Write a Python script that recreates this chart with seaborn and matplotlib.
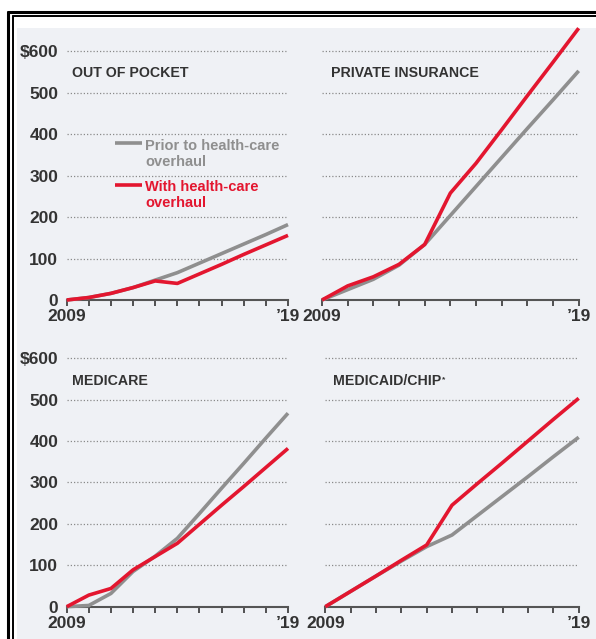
import matplotlib
matplotlib.use("Agg")
import numpy as np
import pandas as pd
import seaborn as sns
import matplotlib.pyplot as plt
from matplotlib.lines import Line2D
from matplotlib.patches import Rectangle

# ---------------- data ----------------
years = list(range(2009, 2020))
scenarios = ["Prior to health-care\noverhaul", "With health-care\noverhaul"]

oop_prior = [0, 6, 16, 30, 48, 66, 89, 112, 135, 158, 182]
oop_with = [0, 6, 16, 30, 46, 40, 63, 86, 110, 133, 156]
priv_prior = [0, 25, 50, 84, 134, 204, 274, 344, 414, 483, 553]
priv_with = [0, 34, 56, 86, 134, 258, 330, 411, 493, 574, 656]
med_prior = [0, 3, 32, 85, 122, 165, 225, 286, 346, 407, 467]
med_with = [0, 28, 44, 89, 121, 153, 199, 245, 290, 336, 382]
mcd_prior = [0, 37, 74, 110, 145, 173, 220, 267, 314, 362, 409]
mcd_with = [0, 37, 74, 112, 149, 245, 297, 348, 400, 452, 503]

panel_titles = ["OUT OF POCKET", "PRIVATE INSURANCE", "MEDICARE", "MEDICAID/CHIP"]
ytick_vals = [0, 100, 200, 300, 400, 500, 600]
ytick_labels = ["0", "100", "200", "300", "400", "500", "$600"]
xtick_labels = ["2009"] + [""] * 9 + ["\u201919"]

series = {
    panel_titles[0]: (oop_prior, oop_with),
    panel_titles[1]: (priv_prior, priv_with),
    panel_titles[2]: (med_prior, med_with),
    panel_titles[3]: (mcd_prior, mcd_with),
}

# ---------------- style ----------------
sns.set_style("white")
plt.rcParams["font.family"] = ["Liberation Sans Narrow", "Liberation Sans", "DejaVu Sans"]
plt.rcParams["font.weight"] = "bold"
plt.rcParams["xtick.bottom"] = True
plt.rcParams["xtick.major.size"] = 4
plt.rcParams["xtick.major.width"] = 1.3
plt.rcParams["xtick.direction"] = "out"

GRAY = "#8f8f8f"
RED = "#e3162f"
TXT = "#333333"
BG = "#eff1f5"

W, H = 596, 639
fig = plt.figure(figsize=(W / 100, H / 100), dpi=100)
fig.patch.set_facecolor("white")

# background panel and double frame
fig.add_artist(Rectangle((17 / W, 1 - 639 / H), (W - 17) / W, (639 - 28) / H,
                         transform=fig.transFigure, facecolor=BG, edgecolor="none", zorder=0))
for (x, y, lw) in [(8.0, 12.0, 2.2), (12.5, 15.5, 1.4)]:
    fig.add_artist(Line2D([x / W, x / W], [1 - y / H, 0], transform=fig.transFigure,
                          color="black", lw=lw))
    fig.add_artist(Line2D([x / W, 1], [1 - y / H, 1 - y / H], transform=fig.transFigure,
                          color="black", lw=lw))

YMAX = 656
SCALE = 248.6 / 600  # px per unit


def rect(x0, x1, ybot):
    ytop = ybot - YMAX * SCALE
    return [x0 / W, 1 - ybot / H, (x1 - x0) / W, (ybot - ytop) / H]


layout = [
    (66.7, 288.0, 300.0, True),
    (322.0, 578.7, 300.0, False),
    (66.7, 288.0, 606.7, True),
    (325.3, 578.7, 606.7, False),
]

axes = []
for title, (x0, x1, ybot, left) in zip(panel_titles, layout):
    ax = fig.add_axes(rect(x0, x1, ybot))
    ax.set_facecolor("none")
    prior, withv = series[title]
    df = pd.DataFrame({
        "year": years * 2,
        "value": prior + withv,
        "scenario": [scenarios[0]] * len(years) + [scenarios[1]] * len(years),
    })
    sns.lineplot(data=df, x="year", y="value", hue="scenario",
                 palette={scenarios[0]: GRAY, scenarios[1]: RED},
                 linewidth=2.6, legend=False, ax=ax)
    for ln in ax.lines:
        ln.set_clip_on(False)
        ln.set_solid_capstyle("butt")
        ln.set_zorder(3)
    ax.set_xlim(2009, 2019)
    ax.set_ylim(0, YMAX)
    ax.set_xlabel("")
    ax.set_ylabel("")
    ax.set_yticks(ytick_vals)
    if left:
        ax.set_yticklabels(ytick_labels)
    else:
        ax.set_yticklabels([])
    ax.set_xticks(years)
    ax.set_xticklabels(xtick_labels)
    ax.tick_params(axis="y", left=False, length=0, pad=6, labelsize=12.5, labelcolor=TXT)
    ax.tick_params(axis="x", bottom=True, direction="out", length=4, width=1.3,
                   color="#444444", pad=2.5, labelsize=12.5, labelcolor=TXT)
    ax.grid(axis="y", linestyle=(0, (1, 1.6)), color="#8a8a8a", linewidth=0.9)
    ax.grid(axis="x", visible=False)
    for s in ["top", "right", "left"]:
        ax.spines[s].set_visible(False)
    ax.spines["bottom"].set_color("#555555")
    ax.spines["bottom"].set_linewidth(1.5)
    axes.append(ax)

# panel titles
title_pos = [(72, 73), (331, 73), (72, 381), (333, 381)]
title_texts = []
for t, (x, y) in zip(panel_titles, title_pos):
    tt = fig.text(x / W, 1 - y / H, t, fontsize=10.2, fontweight="bold", color=TXT,
                  ha="left", va="center")
    title_texts.append(tt)
axes[3].annotate("*", xy=(1.0, 0.85), xycoords=title_texts[3], xytext=(0.5, 0),
                 textcoords="offset points", fontsize=6, fontweight="bold",
                 color=TXT, ha="left", va="top")

# legend in first panel
for (ly, ty, col, lab) in [(143, 154, GRAY, scenarios[0]), (185, 195, RED, scenarios[1])]:
    fig.add_artist(Line2D([115 / W, 142 / W], [1 - ly / H, 1 - ly / H],
                          transform=fig.transFigure, color=col, lw=2.6,
                          solid_capstyle="butt"))
    fig.text(145 / W, 1 - ty / H, lab, fontsize=10.5, fontweight="bold", color=col,
             ha="left", va="center", linespacing=1.15)

fig.savefig("out.png", dpi=100, facecolor="white")
